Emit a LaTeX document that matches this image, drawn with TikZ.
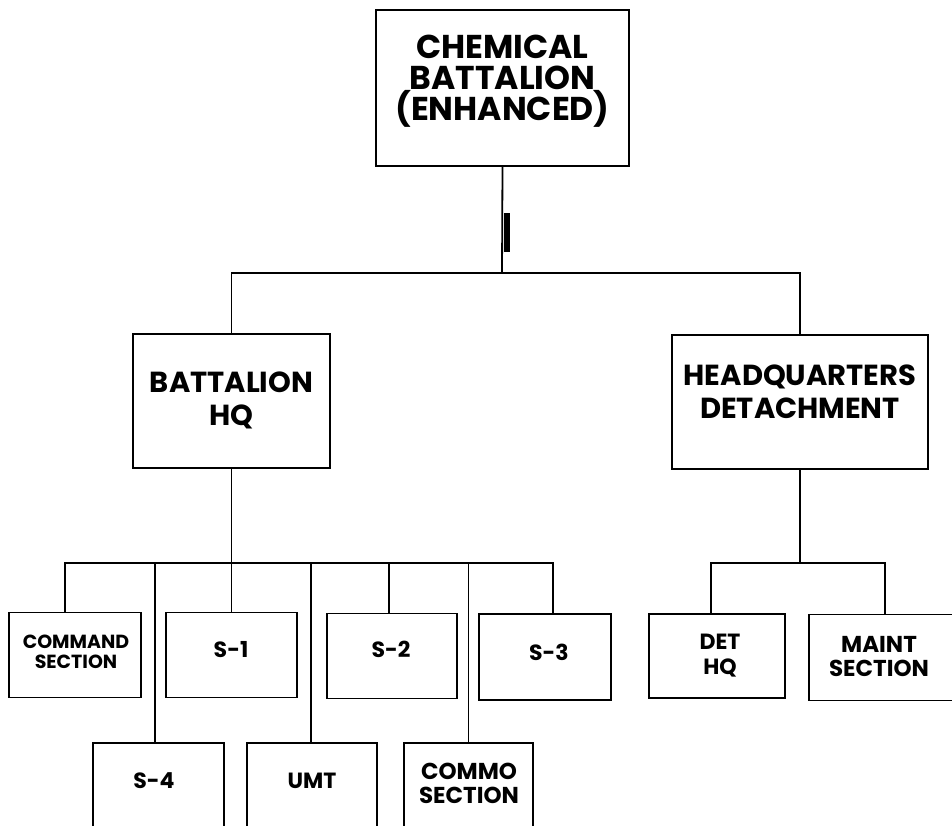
\documentclass[tikz,border=0pt]{standalone}
\usepackage{fontspec}
\setmainfont{Poppins}
\begin{document}
\begin{tikzpicture}[x=1pt,y=-1pt,
  box/.style={draw, line width=1.8pt, inner sep=0pt},
  huge/.style={font=\bfseries\fontsize{33}{31}\selectfont, align=center, inner sep=0pt},
  big/.style={font=\bfseries\fontsize{29}{33}\selectfont, align=center, inner sep=0pt},
  small/.style={font=\bfseries\fontsize{22}{25}\selectfont, align=center, inner sep=0pt},
  wide/.style={font=\bfseries\fontsize{23}{24}\selectfont, align=center, inner sep=0pt},
  tiny/.style={font=\bfseries\fontsize{19}{20}\selectfont, align=center, inner sep=0pt},
  conn/.style={line width=1.8pt}]
\useasboundingbox (0,0) rectangle (952,825);
\clip (0,0) rectangle (952,825);
% boxes
\node[box, minimum width=253pt, minimum height=156pt] (top) at (502.5,88) {};
\node[box, minimum width=197pt, minimum height=134pt] (bhq) at (231.5,401) {};
\node[box, minimum width=256pt, minimum height=134pt] (hqd) at (800,402) {};
\node[box, minimum width=132pt, minimum height=85pt] (cmd) at (75,655) {};
\node[box, minimum width=131pt, minimum height=85pt] (s1) at (231.5,655) {};
\node[box, minimum width=130pt, minimum height=85pt] (s2) at (392,656) {};
\node[box, minimum width=132pt, minimum height=86pt] (s3) at (545,657) {};
\node[box, minimum width=136pt, minimum height=84pt] (dethq) at (717,656) {};
\node[box, minimum width=152pt, minimum height=86pt] (maint) at (885,657.5) {};
\node[box, minimum width=131pt, minimum height=85pt] (s4) at (158.5,785.5) {};
\node[box, minimum width=130pt, minimum height=85pt] (umt) at (312,785.5) {};
\node[box, minimum width=129pt, minimum height=85pt] (commo) at (468.5,785.5) {};
% texts
\node[huge] (topT) at (502.5,81) {CHEMICAL\\BATTALION\\(ENHANCED)};
\node[big] (bhqT) at (231.5,400) {BATTALION\\HQ};
\node[big] (hqdT) at (800,392) {HEADQUARTERS\\DETACHMENT};
\node[tiny] (cmdT) at (76,652) {COMMAND\\SECTION};
\node[small] (s1T) at (231,650) {S-1};
\node[small] (s2T) at (391,649) {S-2};
\node[small] (s3T) at (549,652) {S-3};
\node[small] (dethqT) at (720,656) {DET\\HQ};
\node[wide] (maintT) at (879,656) {MAINT\\SECTION};
\node[small] (s4T) at (154,781) {S-4};
\node[small] (umtT) at (312,781) {UMT};
\node[wide] (commoT) at (469,783) {COMMO\\SECTION};
% junctions
\coordinate (j1) at (502,273);
\coordinate (bus) at (232,563);
\coordinate (bus2) at (800,563);
% top level connectors
\draw[conn] (top.south) -- (j1);
\draw[conn] (bhq.north) -- (bhq.north |- j1) -- (hqd.north |- j1) -- (hqd.north);
\fill (504,213) rectangle (510,252);
% battalion HQ branch
\draw[conn] (bhq.south) -- (bhq.south |- bus);
\draw[conn] ([xshift=-10pt]cmd.north) -- ([xshift=-10pt]cmd.north |- bus)
  -- ([xshift=8pt]s3.north |- bus) -- ([xshift=8pt]s3.north);
\draw[conn] ([xshift=-3.5pt]s4.north) -- ([xshift=-3.5pt]s4.north |- bus);
\draw[conn] (s1.north) -- (s1.north |- bus);
\draw[conn] ([xshift=-1pt]umt.north) -- ([xshift=-1pt]umt.north |- bus);
\draw[conn] ([xshift=-3pt]s2.north) -- ([xshift=-3pt]s2.north |- bus);
\draw[conn] (commo.north) -- (commo.north |- bus);
% HQ detachment branch
\draw[conn] (hqd.south) -- (bus2);
\draw[conn] ([xshift=-6pt]dethq.north) -- ([xshift=-6pt]dethq.north |- bus2)
  -- (maint.north |- bus2) -- (maint.north);
\end{tikzpicture}
\end{document}
